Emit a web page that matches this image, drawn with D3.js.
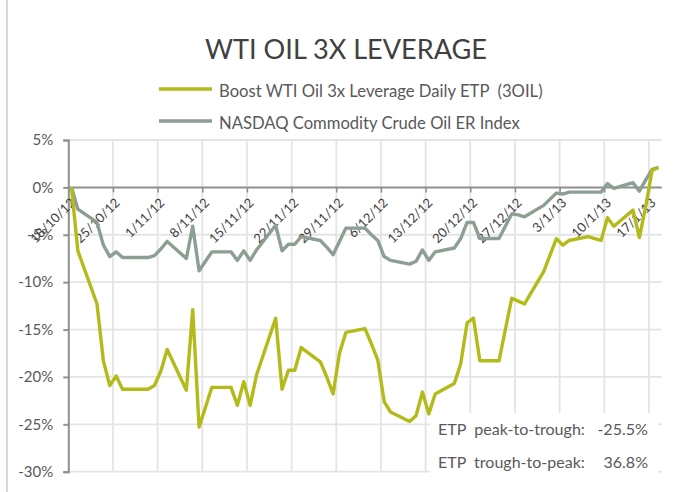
<!DOCTYPE html>
<html><head><meta charset="utf-8">
<script src="https://cdn.jsdelivr.net/npm/d3@7"></script>
<style>
html,body{margin:0;padding:0;background:#fff;}
svg{display:block;font-family:Lato,"Open Sans",sans-serif;}
</style></head>
<body>
<svg id="chart" width="680" height="492"></svg>
<script>
// ---- data ----
const dates = ["18/10/12","19/10/12","22/10/12","23/10/12","24/10/12","25/10/12","26/10/12","29/10/12","30/10/12","31/10/12",
"1/11/12","2/11/12","5/11/12","6/11/12","7/11/12","8/11/12","9/11/12","12/11/12","13/11/12","14/11/12","15/11/12","16/11/12",
"19/11/12","20/11/12","21/11/12","22/11/12","23/11/12","26/11/12","27/11/12","28/11/12","29/11/12","30/11/12",
"3/12/12","4/12/12","5/12/12","6/12/12","7/12/12","10/12/12","11/12/12","12/12/12","13/12/12","14/12/12",
"17/12/12","18/12/12","19/12/12","20/12/12","21/12/12","24/12/12","26/12/12","27/12/12","28/12/12","31/12/12",
"2/1/13","3/1/13","4/1/13","7/1/13","8/1/13","9/1/13","10/1/13","11/1/13","14/1/13","15/1/13","16/1/13","17/1/13","18/1/13"];
const etpValues = [0,-6.7,-12.3,-18.3,-20.9,-19.9,-21.3,-21.3,-21.3,-20.9,
-19.4,-17.1,-21.4,-12.9,-25.3,-23.2,-21.1,-21.1,-23.0,-20.5,-23.0,-19.8,
-13.8,-21.3,-19.3,-19.3,-16.9,-18.4,-20.0,-21.8,-17.5,-15.3,
-14.9,-16.5,-18.2,-22.6,-23.7,-24.7,-24.1,-21.6,-23.9,-21.8,
-20.7,-18.6,-14.3,-13.8,-18.3,-18.3,-11.7,-12.0,-12.3,-8.9,
-5.4,-6.1,-5.6,-5.2,-5.4,-5.6,-3.2,-4.1,-2.4,-5.3,-2.0,1.8,2.1];
const indexValues = [0,-2.3,-3.7,-6.1,-7.3,-6.8,-7.4,-7.4,-7.4,-7.2,
-6.5,-5.7,-7.5,-4.1,-8.8,-7.8,-6.8,-6.8,-7.7,-6.7,-7.7,-6.6,
-4.0,-6.7,-6.0,-6.0,-5.2,-5.6,-6.3,-7.1,-5.7,-4.3,
-4.3,-5.0,-5.6,-7.3,-7.7,-8.1,-7.8,-6.6,-7.7,-6.8,
-6.4,-5.4,-3.7,-3.7,-5.4,-5.4,-2.8,-2.9,-3.1,-1.9,
-0.6,-0.7,-0.5,-0.5,-0.5,-0.5,0.4,-0.1,0.5,-0.4,0.8,1.9,2.1];
const seriesNames = ["Boost WTI Oil 3x Leverage Daily ETP  (3OIL)","NASDAQ Commodity Crude Oil ER Index"];
const seriesColors = ["#b3bb1a","#8d9e93"];
const xTickLabels = ["18/10/12","25/10/12","1/11/12","8/11/12","15/11/12","22/11/12","29/11/12","6/12/12","13/12/12","20/12/12","27/12/12","3/1/13","10/1/13","17/1/13"];
const yTicks = [5,0,-5,-10,-15,-20,-25,-30];
const titleText = "WTI OIL 3X LEVERAGE";
const annoLabels = ["ETP  peak-to-trough:","ETP  trough-to-peak:"];
const annoValues = ["-25.5%","36.8%"];

// ---- drawing ----
const parse = d3.timeParse("%d/%m/%y");
const svg = d3.select("#chart");
const L = 68.3, R = 661.7, T = 140, B = 471.7;
const x = d3.scaleTime().domain([new Date(2012,9,18), new Date(2013,0,19)]).range([L, R]);
const y = d3.scaleLinear().domain([-30,5]).range([B, T]);
const mid = d => d3.timeHour.offset(parse(d), 12);
const tickDates = xTickLabels.map(parse);

// left border
svg.append("line").attr("x1",7).attr("x2",7).attr("y1",0).attr("y2",492)
  .attr("stroke","#d3dad3").attr("stroke-width",2);

// gridlines
const grid = svg.append("g").attr("stroke","#e4e4e4").attr("stroke-width",1.8);
grid.selectAll(".h").data(yTicks.filter(v=>v!==0)).join("line")
  .attr("x1",L).attr("x2",R).attr("y1",d=>y(d)).attr("y2",d=>y(d));
grid.selectAll(".v").data(tickDates.slice(1)).join("line")
  .attr("x1",d=>x(d)).attr("x2",d=>x(d)).attr("y1",T).attr("y2",B);

// annotation box
svg.append("rect").attr("x",430).attr("y",413).attr("width",228).attr("height",62).attr("fill","#fff");

// y axis
const yAxis = svg.append("g").attr("transform",`translate(${L},0)`)
  .call(d3.axisLeft(y).tickValues(yTicks).tickFormat(d=>d+"%").tickSize(5).tickPadding(10));
yAxis.select(".domain").attr("stroke","#8b948b").attr("stroke-width",2);
yAxis.selectAll(".tick line").attr("stroke","#8b948b").attr("stroke-width",2);
yAxis.selectAll("text").attr("font-size",15).attr("fill","#595959").attr("font-family","Lato");

// x axis at 0
const xAxis = svg.append("g").attr("transform",`translate(0,${y(0)})`)
  .call(d3.axisBottom(x).tickValues(tickDates).tickFormat((d,i)=>xTickLabels[i]).tickSize(5));
xAxis.select(".domain").attr("stroke","#8f8f8f").attr("stroke-width",2).attr("d",`M${L},0H${R}`);
xAxis.selectAll(".tick line").attr("stroke","#8f8f8f").attr("stroke-width",1.5);
xAxis.selectAll("text").attr("font-size",13).attr("fill","#404040").attr("font-family","Lato")
  .attr("text-anchor","end").attr("x",0).attr("y",0).attr("dy","0.35em")
  .attr("transform","translate(4,13) rotate(-45)");

// lines
const series = [etpValues, indexValues];
const line = d3.line().x((d,i)=>x(mid(dates[i]))).y(d=>y(d));
[1,0].forEach(k=>{
  svg.append("path").datum(series[k]).attr("d",line).attr("fill","none")
    .attr("stroke",seriesColors[k]).attr("stroke-width",3.4).attr("stroke-linejoin","round");
});

function fit(sel, w){
  const n = sel.node().getComputedTextLength();
  const fs = parseFloat(sel.attr("font-size"));
  sel.attr("font-size", fs*w/n);
}

// title
const t = svg.append("text").attr("x",346).attr("y",59).attr("text-anchor","middle")
  .attr("font-size",28).attr("fill","#404040").attr("font-family","Lato").text(titleText);
fit(t,282);

// legend
const legY = [89,121];
seriesNames.forEach((n,i)=>{
  svg.append("line").attr("x1",159).attr("x2",212).attr("y1",legY[i]).attr("y2",legY[i])
    .attr("stroke",seriesColors[i]).attr("stroke-width",3.6);
  const tx = svg.append("text").attr("x",219).attr("y",legY[i]+7.5).attr("font-size",16)
    .attr("fill","#595959").attr("font-family","Lato").attr("xml:space","preserve").style("white-space","pre").text(n);
  fit(tx, i===0?324:301);
});

// annotations
const annoY = [435,468];
annoLabels.forEach((s,i)=>{
  const a = svg.append("text").attr("x",438).attr("y",annoY[i]).attr("font-size",16)
    .attr("fill","#595959").attr("font-family","Lato").style("white-space","pre").text(s);
  fit(a,147);
  svg.append("text").attr("x",648).attr("y",annoY[i]).attr("text-anchor","end")
    .attr("font-size",a.attr("font-size")).attr("fill","#595959").attr("font-family","Lato").text(annoValues[i]);
});
</script>
</body></html>
